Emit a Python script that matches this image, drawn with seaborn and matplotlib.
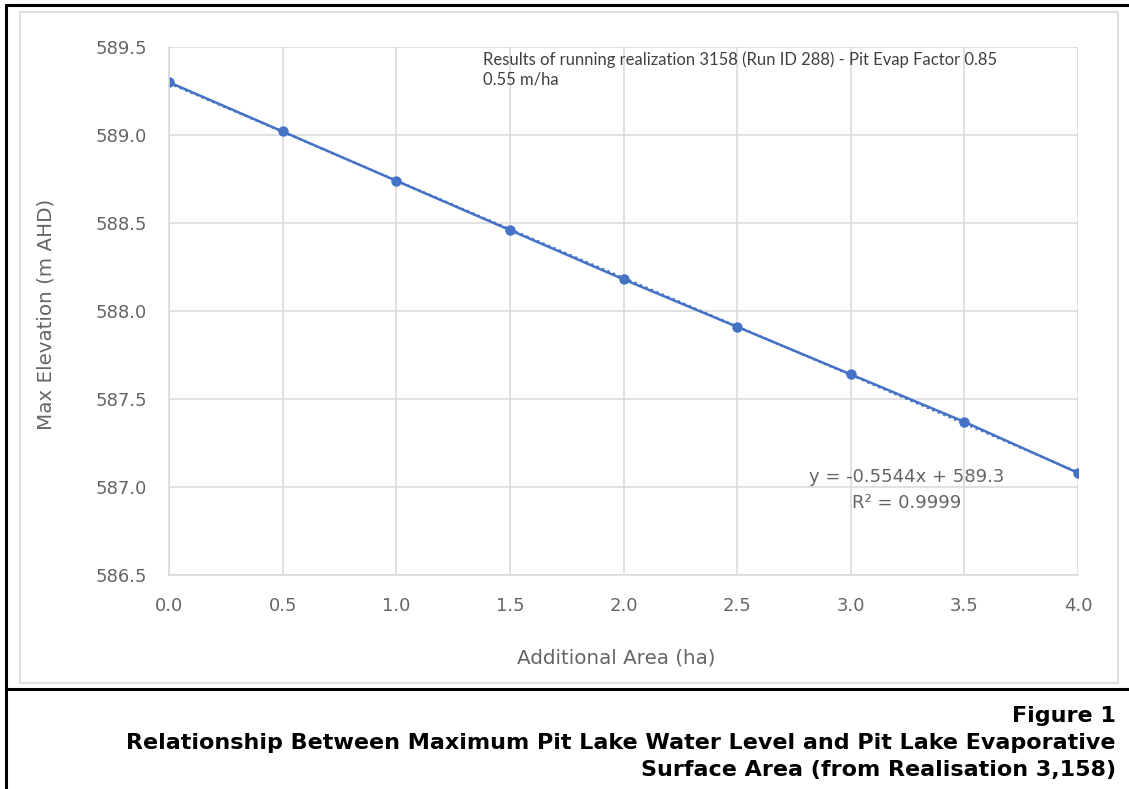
import numpy as np
import pandas as pd
import matplotlib
matplotlib.use("Agg")
import matplotlib.pyplot as plt
from matplotlib.lines import Line2D
from matplotlib.patches import Rectangle
import seaborn as sns

# data
area_ha = [0.0, 0.5, 1.0, 1.5, 2.0, 2.5, 3.0, 3.5, 4.0]
max_elev = [589.30, 589.02, 588.74, 588.46, 588.18, 587.91, 587.64, 587.37, 587.08]
x_ticks = [0.0, 0.5, 1.0, 1.5, 2.0, 2.5, 3.0, 3.5, 4.0]
y_ticks = [586.5, 587.0, 587.5, 588.0, 588.5, 589.0, 589.5]
trend_eq = "y = -0.5544x + 589.3"
trend_r2 = "R\u00b2 = 0.9999"

df = pd.DataFrame({"area": area_ha, "elev": max_elev})

sns.set_theme(style="white")
plt.rcParams["font.family"] = ["DejaVu Sans"]

W, H = 1129, 789
fig = plt.figure(figsize=(W / 100, H / 100), dpi=100)
ax = fig.add_axes([169 / W, 1 - 575 / H, (1078 - 169) / W, (575 - 47) / H])

blue = "#4472C4"
grey_txt = "#656565"
grid_c = "#d9d9d9"

# linear trendline (dotted) under the series
sns.regplot(data=df, x="area", y="elev", ax=ax, scatter=False, ci=None,
            truncate=True, line_kws=dict(color=blue, lw=1.6, ls=":"))
sns.lineplot(data=df, x="area", y="elev", ax=ax, color=blue, lw=1.8,
             marker="o", markersize=7.5, markeredgewidth=0)

ax.set_xlim(0, 4)
ax.set_ylim(586.5, 589.5)
ax.set_xticks(x_ticks)
ax.set_yticks(y_ticks)
ax.set_xticklabels([f"{v:.1f}" for v in x_ticks])
ax.set_yticklabels([f"{v:.1f}" for v in y_ticks])
ax.tick_params(axis="both", length=0, labelsize=13, colors=grey_txt, pad=16)
ax.grid(True, color=grid_c, lw=1.1)
for side in ["top", "right"]:
    ax.spines[side].set_visible(False)
for side in ["left", "bottom"]:
    ax.spines[side].set_color(grid_c)
    ax.spines[side].set_linewidth(1.1)
ax.set_xlabel("")
ax.set_ylabel("")

fig.text(616 / W, 1 - 658 / H, "Additional Area (ha)", ha="center", va="center",
         fontsize=14.3, color=grey_txt)
fig.text(46 / W, 1 - 314 / H, "Max Elevation (m AHD)", ha="center", va="center",
         rotation=90, fontsize=14.3, color=grey_txt)

ax.text(483 / W, 1 - 51 / H,
        "Results of running realization 3158 (Run ID 288) - Pit Evap Factor 0.85\n0.55 m/ha",
        transform=fig.transFigure, ha="left", va="top", fontsize=12,
        color="#404040", family=["Lato", "DejaVu Sans"], linespacing=1.3)

fig.text(907 / W, 1 - 477 / H, trend_eq, ha="center", va="center",
         fontsize=13, color=grey_txt)
fig.text(907 / W, 1 - 503 / H, trend_r2, ha="center", va="center",
         fontsize=13, color=grey_txt)

# chart frame and page borders
fig.add_artist(Rectangle((20 / W, 1 - 683 / H), (1118 - 20) / W, (683 - 12) / H,
                         transform=fig.transFigure, fill=False, ec=grid_c, lw=1.2))
fig.add_artist(Line2D([6 / W, 6 / W], [0, 1 - 5 / H], color="black", lw=2.2))
fig.add_artist(Line2D([6 / W, 1], [1 - 5 / H, 1 - 5 / H], color="black", lw=2.2))
fig.add_artist(Line2D([6 / W, 1], [1 - 689 / H, 1 - 689 / H], color="black", lw=2.2))

cap = dict(ha="right", va="center", fontsize=16, fontweight="bold", color="black",
           family=["DejaVu Sans"])
fig.text(1116 / W, 1 - 716 / H, "Figure 1", **cap)
fig.text(1116 / W, 1 - 743 / H,
         "Relationship Between Maximum Pit Lake Water Level and Pit Lake Evaporative", **cap)
fig.text(1116 / W, 1 - 770 / H, "Surface Area (from Realisation 3,158)", **cap)

fig.savefig("out.png", dpi=100)
